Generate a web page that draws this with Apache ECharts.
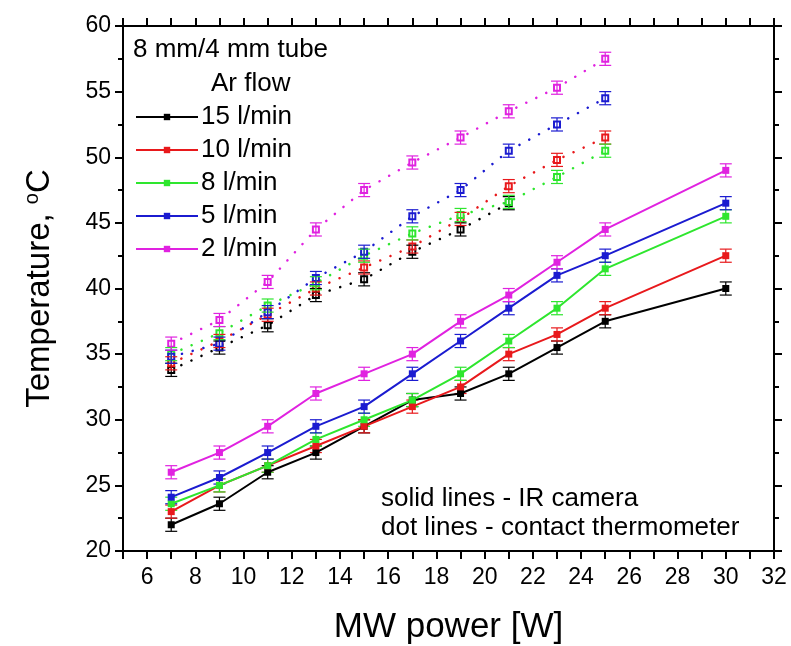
<!DOCTYPE html>
<html>
<head>
<meta charset="utf-8">
<script src="https://cdn.jsdelivr.net/npm/echarts@6/dist/echarts.min.js"></script>
<style>
html, body { margin: 0; background: #fff; }
#chart { width: 791px; height: 646px; }
</style>
</head>
<body>
<div id="chart"></div>
<script>
// MW power points
var powerIR = [7, 9, 11, 13, 15, 17, 19, 21, 23, 25, 30];
var powerCT = [7, 9, 11, 13, 15, 17, 19, 21, 23, 25];

var flowNames = ['15 l/min', '10 l/min', '8 l/min', '5 l/min', '2 l/min'];
var flowColors = ['#000000', '#e8191c', '#2ee62e', '#1b1bd0', '#e022e0'];

// solid lines - IR camera
var ir15 = [22, 23.6, 26, 27.5, 29.5, 31.5, 32, 33.5, 35.5, 37.5, 40];
var ir10 = [23, 25, 26.5, 28, 29.5, 31, 32.5, 35, 36.5, 38.5, 42.5];
var ir8 = [23.6, 25, 26.5, 28.5, 30, 31.5, 33.5, 36, 38.5, 41.5, 45.5];
var ir5 = [24.1, 25.6, 27.5, 29.5, 31, 33.5, 36, 38.5, 41, 42.5, 46.5];
var ir2 = [26, 27.5, 29.5, 32, 33.5, 35, 37.5, 39.5, 42, 44.5, 49];

// dot lines - contact thermometer
var ct15 = [33.8, 35.5, 37.2, 39.5, 40.7, 42.8, 44.5, 46.5];
var ct10 = [34.3, 36, 38, 40, 41.6, 43.2, 45.3, 47.8, 49.8, 51.5];
var ct8 = [35, 36.6, 38.7, 40.4, 42.5, 44.2, 45.6, 46.6, 48.5, 50.5];
var ct5 = [34.8, 35.8, 38.2, 40.8, 42.8, 45.5, 47.5, 50.5, 52.5, 54.5];
var ct2 = [35.8, 37.6, 40.5, 44.5, 47.5, 49.6, 51.5, 53.5, 55.3, 57.5];

var errIR = 0.5;
var errCT = 0.5;

var irSets = [ir15, ir10, ir8, ir5, ir2];
var ctSets = [ct15, ct10, ct8, ct5, ct2];

function pairs(xs, ys) {
  var out = [];
  for (var i = 0; i < ys.length; i++) out.push([xs[i], ys[i]]);
  return out;
}

function errorBars(xs, ys, err, color) {
  return {
    type: 'custom',
    silent: true,
    z: 3,
    data: pairs(xs, ys),
    renderItem: function (params, api) {
      var x = api.value(0), y = api.value(1);
      var top = api.coord([x, y + err]);
      var bot = api.coord([x, y - err]);
      var w = 6;
      var st = { stroke: color, lineWidth: 1.2 };
      return {
        type: 'group',
        children: [
          { type: 'line', shape: { x1: top[0], y1: top[1], x2: bot[0], y2: bot[1] }, style: st },
          { type: 'line', shape: { x1: top[0] - w, y1: top[1], x2: top[0] + w, y2: top[1] }, style: st },
          { type: 'line', shape: { x1: bot[0] - w, y1: bot[1], x2: bot[0] + w, y2: bot[1] }, style: st }
        ]
      };
    }
  };
}

var series = [];
// dotted first so the solid lines sit on top
for (var i = 0; i < ctSets.length; i++) {
  series.push({
    type: 'line',
    name: 'ct ' + flowNames[i],
    data: pairs(powerCT, ctSets[i]),
    symbol: 'emptyRect',
    symbolSize: 6,
    z: 2,
    itemStyle: { color: flowColors[i], borderWidth: 1 },
    lineStyle: { color: flowColors[i], width: 2.5, type: [0.1, 11], cap: 'round' }
  });
  series.push(errorBars(powerCT, ctSets[i], errCT, flowColors[i]));
}
for (var j = 0; j < irSets.length; j++) {
  series.push({
    type: 'line',
    name: flowNames[j],
    data: pairs(powerIR, irSets[j]),
    symbol: 'rect',
    symbolSize: 7,
    z: 4,
    itemStyle: { color: flowColors[j] },
    lineStyle: { color: flowColors[j], width: 2 }
  });
  series.push(errorBars(powerIR, irSets[j], errIR, flowColors[j]));
}

var font = 'Liberation Sans, Arial, sans-serif';
var axisLine = { show: true, onZero: false, lineStyle: { color: '#000', width: 2 } };
var txt = { fontSize: 26, fontWeight: 'normal', color: '#000', fontFamily: font };

var chart = echarts.init(document.getElementById('chart'));
chart.setOption({
  animation: false,
  backgroundColor: '#fff',
  textStyle: { fontFamily: font },
  grid: { left: 123, right: 17, top: 26, bottom: 95, outerBoundsMode: 'none' },
  title: [
    { text: '8 mm/4 mm tube', left: 128, top: 32, textStyle: txt },
    { text: 'Ar flow', left: 206, top: 66, textStyle: txt },
    { text: 'solid lines - IR camera', left: 376, top: 481, textStyle: txt },
    { text: 'dot lines - contact thermometer', left: 376, top: 510, textStyle: txt }
  ],
  legend: {
    data: flowNames,
    orient: 'vertical',
    left: 130,
    top: 99,
    itemWidth: 62,
    itemHeight: 8,
    itemGap: 7,
    textStyle: { fontSize: 26, color: '#000', fontFamily: font, padding: [0, 0, 0, -2] }
  },
  xAxis: [
    {
      type: 'value', min: 5, max: 32, interval: 1, position: 'bottom',
      name: 'MW power [W]', nameLocation: 'middle', nameGap: 59,
      nameTextStyle: { fontSize: 35, color: '#000', fontFamily: font },
      axisLine: axisLine,
      axisTick: { show: true, inside: false, length: 8, lineStyle: { color: '#000', width: 2 } },
      axisLabel: {
        fontSize: 23, color: '#000', margin: 15,
        formatter: function (v) { return v % 2 === 0 ? String(v) : ''; }
      },
      splitLine: { show: false }
    },
    {
      type: 'value', min: 5, max: 32, interval: 1, position: 'top',
      axisLine: axisLine,
      axisTick: { show: true, inside: false, length: 8, lineStyle: { color: '#000', width: 2 } },
      axisLabel: { show: false },
      splitLine: { show: false }
    }
  ],
  yAxis: [
    {
      type: 'value', min: 20, max: 60, interval: 5, position: 'left',
      name: 'Temperature, {sup|o}C', nameLocation: 'middle', nameGap: 66,
      nameTextStyle: {
        fontSize: 33, color: '#000', fontFamily: font,
        rich: { sup: { fontSize: 20, verticalAlign: 'top', padding: [0, 0, 15, 0] } }
      },
      axisLine: axisLine,
      axisTick: { show: true, inside: false, length: 8, lineStyle: { color: '#000', width: 2 } },
      minorTick: { show: true, splitNumber: 2, length: 5, lineStyle: { color: '#000', width: 2 } },
      axisLabel: { fontSize: 23, color: '#000', margin: 12 },
      splitLine: { show: false }
    },
    {
      type: 'value', min: 20, max: 60, interval: 5, position: 'right',
      axisLine: axisLine,
      axisTick: { show: true, inside: false, length: 8, lineStyle: { color: '#000', width: 2 } },
      minorTick: { show: true, splitNumber: 2, length: 5, lineStyle: { color: '#000', width: 2 } },
      axisLabel: { show: false },
      splitLine: { show: false }
    }
  ],
  series: series
});
</script>
</body>
</html>
